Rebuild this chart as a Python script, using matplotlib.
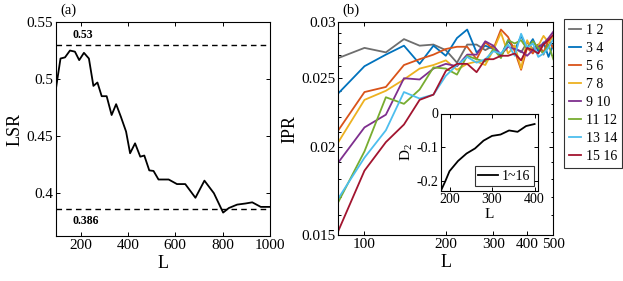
import matplotlib
matplotlib.use("Agg")
import matplotlib.pyplot as plt
from matplotlib.ticker import FixedLocator, NullFormatter, FixedFormatter, NullLocator

plt.rcParams['font.family'] = ['Liberation Serif', 'DejaVu Serif']
plt.rcParams['mathtext.default'] = 'regular'

# ---------------- data ----------------
L_a = [96, 115, 134, 155, 176, 194, 214, 235, 254, 271, 289, 310, 331, 350, 370, 392,
       409, 430, 452, 469, 490, 508, 529, 572, 607, 642, 685, 723, 763, 802, 826, 861,
       897, 925, 961, 1000]
LSR = [0.492, 0.518, 0.519, 0.525, 0.524, 0.5166, 0.523, 0.518, 0.494, 0.497, 0.485,
       0.485, 0.4685, 0.478, 0.467, 0.454, 0.435, 0.4437, 0.432, 0.433, 0.420, 0.4195,
       0.412, 0.412, 0.408, 0.408, 0.396, 0.411, 0.400, 0.383, 0.387, 0.390, 0.391,
       0.392, 0.388, 0.388]
ref_high = 0.53
ref_low = 0.386

L_b = [80, 100, 120, 140, 160, 180, 200, 220, 240, 260, 280, 300, 320, 340, 360, 380,
       400, 420, 440, 460, 480, 500]
ipr_12 = [0.0267, 0.0276, 0.0272, 0.0284, 0.0278, 0.0279, 0.0274, 0.0263, 0.0279, 0.0279,
          0.0274, 0.0278, 0.0268, 0.0282, 0.0276, 0.0272, 0.0281, 0.0275, 0.0279, 0.0270,
          0.0283, 0.0276]
ipr_34 = [0.0238, 0.0260, 0.0270, 0.0278, 0.0262, 0.0278, 0.0269, 0.0285, 0.0293, 0.0272,
          0.0278, 0.0275, 0.0269, 0.0283, 0.0274, 0.0287, 0.0276, 0.0284, 0.0273, 0.0281,
          0.0268, 0.0279]
ipr_56 = [0.0211, 0.0239, 0.0243, 0.0261, 0.0266, 0.0270, 0.0275, 0.0277, 0.0277, 0.0266,
          0.0281, 0.0275, 0.0293, 0.0286, 0.0273, 0.0257, 0.0276, 0.0271, 0.0279, 0.0272,
          0.0283, 0.0276]
ipr_78 = [0.0203, 0.0233, 0.0240, 0.0249, 0.0258, 0.0261, 0.0265, 0.0257, 0.0262, 0.0264,
          0.0261, 0.0274, 0.0290, 0.0271, 0.0278, 0.0258, 0.0283, 0.0273, 0.0278, 0.0287,
          0.0281, 0.0286]
ipr_910 = [0.0190, 0.0213, 0.0222, 0.0250, 0.0249, 0.0258, 0.0262, 0.0260, 0.0270, 0.0270,
           0.0282, 0.0278, 0.0270, 0.0277, 0.0275, 0.0273, 0.0269, 0.0274, 0.0277, 0.0280,
           0.0285, 0.0291]
ipr_1112 = [0.0167, 0.0197, 0.0235, 0.0230, 0.0241, 0.0259, 0.0258, 0.0253, 0.0269, 0.0266,
            0.0264, 0.0275, 0.0267, 0.0283, 0.0280, 0.0283, 0.0275, 0.0282, 0.0276, 0.0271,
            0.0279, 0.0266]
ipr_1314 = [0.0169, 0.0193, 0.0211, 0.0239, 0.0234, 0.0237, 0.0252, 0.0261, 0.0268, 0.0263,
            0.0266, 0.0273, 0.0271, 0.0279, 0.0269, 0.0289, 0.0276, 0.0280, 0.0268, 0.0271,
            0.0276, 0.0284]
ipr_1516 = [0.0152, 0.0185, 0.0203, 0.0215, 0.0233, 0.0237, 0.0256, 0.0262, 0.0262, 0.0255,
            0.0266, 0.0266, 0.0269, 0.0269, 0.0271, 0.0265, 0.0276, 0.0274, 0.0271, 0.0279,
            0.0283, 0.0288]
series_labels = ['1 2', '3 4', '5 6', '7 8', '9 10', '11 12', '13 14', '15 16']

L_in = [180, 190, 200, 220, 240, 260, 280, 300, 320, 340, 360, 380, 400]
D2 = [-0.227, -0.200, -0.170, -0.140, -0.118, -0.103, -0.080, -0.066, -0.062, -0.050,
      -0.054, -0.037, -0.031]

colors = ['#6e6e6e', '#0072BD', '#D95319', '#EDB120', '#7E2F8E', '#77AC30', '#4DBEEE', '#A2142F']

W, H = 623, 281
fig = plt.figure(figsize=(W / 100, H / 100), dpi=100)

def style(ax, fs=10):
    ax.tick_params(direction='in', which='both', top=True, right=True, labelsize=fs,
                   length=3, width=0.7, pad=2)
    ax.tick_params(which='minor', length=1.8)
    for s in ax.spines.values():
        s.set_linewidth(0.8)

# ---------------- panel (a) ----------------
axa = fig.add_axes([56 / W, 1 - 236 / H, 214 / W, 214 / H])
axa.plot(L_a, LSR, color='k', lw=1.3)
axa.axhline(ref_high, color='k', ls=(0, (4, 3)), lw=1.0)
axa.axhline(ref_low, color='k', ls=(0, (4, 3)), lw=1.0)
axa.text(167, 0.5385, '0.53', fontsize=8.5, fontweight='bold', va='center', ha='left')
axa.text(167, 0.3757, '0.386', fontsize=8.5, fontweight='bold', va='center', ha='left')
axa.set_xlim(96, 1000)
axa.set_ylim(0.3625, 0.55)
axa.set_xticks([200, 400, 600, 800, 1000])
axa.set_yticks([0.4, 0.45, 0.5, 0.55])
axa.set_yticklabels(['0.4', '0.45', '0.5', '0.55'])
style(axa, 11)
axa.set_xlabel('L', fontsize=13, labelpad=2)
axa.set_ylabel('LSR', fontsize=13, labelpad=2)
fig.text(60 / W, 1 - 10 / H, '(a)', fontsize=10.5, ha='left', va='center')

# ---------------- panel (b) ----------------
axb = fig.add_axes([338.3 / W, 1 - 235 / H, 215 / W, 212.7 / H])
all_ipr = [ipr_12, ipr_34, ipr_56, ipr_78, ipr_910, ipr_1112, ipr_1314, ipr_1516]
handles = []
for vals, c, lab in zip(all_ipr, colors, series_labels):
    h, = axb.plot(L_b, vals, color=c, lw=1.3, label=lab)
    handles.append(h)
axb.set_xscale('log')
axb.set_yscale('log')
axb.set_xlim(80, 500)
axb.set_ylim(0.015, 0.03)
axb.xaxis.set_major_locator(FixedLocator([100, 200, 300, 400, 500]))
axb.xaxis.set_major_formatter(FixedFormatter(['100', '200', '300', '400', '500']))
axb.xaxis.set_minor_locator(NullLocator())
axb.xaxis.set_minor_formatter(NullFormatter())
axb.yaxis.set_major_locator(FixedLocator([0.015, 0.02, 0.025, 0.03]))
axb.yaxis.set_major_formatter(FixedFormatter(['0.015', '0.02', '0.025', '0.03']))
axb.yaxis.set_minor_locator(FixedLocator([0.016, 0.017, 0.018, 0.019, 0.021, 0.022, 0.023,
                                          0.024, 0.026, 0.027, 0.028, 0.029]))
axb.yaxis.set_minor_formatter(NullFormatter())
style(axb, 11)
axb.set_xlabel('L', fontsize=13, labelpad=2)
axb.set_ylabel('IPR', fontsize=13, labelpad=2)
fig.text(342 / W, 1 - 10 / H, '(b)', fontsize=10.5, ha='left', va='center')

leg = fig.legend(handles=handles, loc='upper left', bbox_to_anchor=(564 / W, 1 - 19 / H),
                 fontsize=10, frameon=True, fancybox=False, edgecolor='k',
                 handlelength=0.9, handletextpad=0.3, borderpad=0.35, labelspacing=0.36,
                 borderaxespad=0)
leg.get_frame().set_linewidth(0.8)

# ---------------- inset ----------------
axi = fig.add_axes([441 / W, 1 - 190.5 / H, 97 / W, 77 / H])
hi, = axi.plot(L_in, D2, color='k', lw=1.3, label='1~16')
axi.set_xlim(180, 408)
axi.set_ylim(-0.227, 0)
axi.set_xticks([200, 300, 400])
axi.set_yticks([-0.2, -0.1, 0])
axi.set_yticklabels(['-0.2', '-0.1', '0'])
style(axi, 10)
axi.set_xlabel('L', fontsize=11, labelpad=1)
axi.set_ylabel('$D_2$', fontsize=11, labelpad=1)
li = axi.legend(handles=[hi], loc='lower right', fontsize=10, frameon=True, fancybox=False,
                edgecolor='k', handlelength=1.4, handletextpad=0.3, borderpad=0.25,
                borderaxespad=0.3)
li.get_frame().set_linewidth(0.8)

fig.savefig('out.png', dpi=100)
